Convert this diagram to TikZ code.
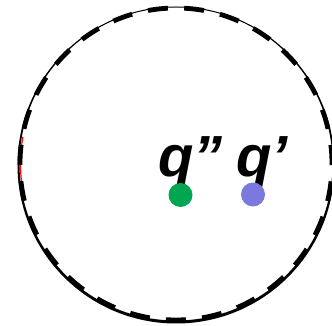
\documentclass[tikz,border=0pt]{standalone}
\usepackage{fontspec}
\setmainfont{Liberation Sans}
\definecolor{dotgreen}{RGB}{0,166,81}
\definecolor{dotblue}{RGB}{122,122,222}
\tikzset{
  lbl/.style={inner sep=0pt, anchor=base west, font=\fontsize{58}{58}\selectfont\bfseries\itshape},
  pointdot/.style={circle, inner sep=0pt, minimum size=24pt},
}
\begin{document}
\begin{tikzpicture}[x=1pt,y=1pt]
\useasboundingbox (0,0) rectangle (332,326);
% red arc under the boundary
\draw[red, line width=1.2pt] (176,162) ++(170:155.5) arc[start angle=170, end angle=190, radius=155.5];
% solid boundary of varying width
\fill[black, even odd rule] (176,161) circle[radius=158.5] (176,162) circle[radius=156.5];
% dashed boundary
\draw[black, line width=4.8pt, dash pattern=on 20pt off 16.3pt, dash phase=0.9pt] (176,162) circle[radius=156];
% labels
\node[lbl] (lq2) at (158,149) {q”};
\node[lbl] (lq1) at (236,149) {q’};
% points
\node[pointdot, fill=dotgreen] (p2) at (180.5,131) {};
\node[pointdot, fill=dotblue] (p1) at (253,131.5) {};
\end{tikzpicture}
\end{document}
